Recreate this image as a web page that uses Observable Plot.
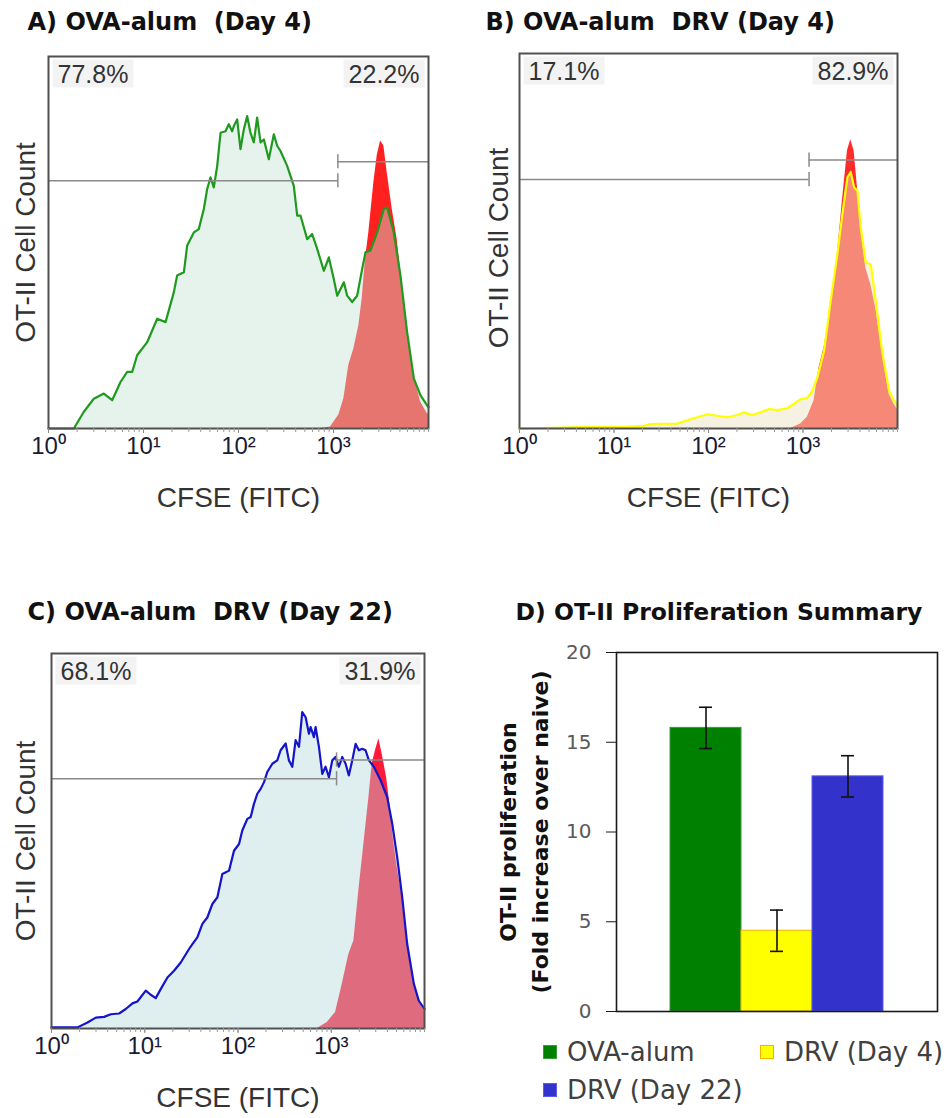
<!DOCTYPE html>
<html><head><meta charset="utf-8">
<script src="https://cdn.jsdelivr.net/npm/d3@7"></script>
<script src="https://cdn.jsdelivr.net/npm/@observablehq/plot@0.6"></script>
<style>
body{margin:0;background:#fff;}
#wrap{position:relative;width:951px;height:1118px;overflow:hidden;background:#fff;}
.panel{position:absolute;}
.legend{position:absolute;left:543px;top:1039px;display:grid;grid-template-columns:217px 200px;row-gap:12px;font-family:"DejaVu Sans",sans-serif;font-size:26px;color:#404040;}
.legend .item{display:flex;align-items:center;line-height:26px;white-space:nowrap;}
.legend .sw{display:inline-block;width:14px;height:14px;margin-right:10px;box-sizing:border-box;border:1px solid;}
</style></head><body><div id="wrap"></div>
<script>
// ---------- DATA ----------
// Histogram panels: [log10(CFSE), % of max cell count]
const panelTitles = ["A) OVA-alum\u00a0 (Day 4)", "B) OVA-alum\u00a0 DRV (Day 4)", "C) OVA-alum\u00a0 DRV (Day 22)"];
const pctLeft = ["77.8%", "17.1%", "68.1%"];
const pctRight = ["22.2%", "82.9%", "31.9%"];
const gateLeftLevel = [66.6, 66.4, 66.6];
const gateRightLevel = [71.7, 71.6, 71.6];
const gateCutLog = [3.046, 3.064, 3.057];
const xAxisLabel = "CFSE (FITC)";
const yAxisLabel = "OT-II Cell Count";
const majorTicks = [1, 10, 100, 1000];
const superscripts = ["\u2070", "\u00b9", "\u00b2", "\u00b3"];

const sampleA = [[0,0],[0.267,0],[0.372,4.5],[0.477,8.0],[0.582,9.4],[0.670,7.6],[0.758,12.5],[0.828,15.2],[0.881,15.2],[0.933,19.7],[1.039,23.2],[1.144,29.5],[1.232,28.6],[1.319,36.6],[1.354,41.1],[1.425,42.0],[1.460,49.2],[1.530,52.7],[1.582,53.6],[1.635,59.0],[1.670,64.3],[1.705,67.5],[1.740,64.8],[1.776,70.6],[1.811,79.5],[1.863,79.9],[1.898,81.8],[1.933,79.9],[1.951,81.3],[1.986,83.1],[2.021,75.1],[2.056,80.4],[2.091,84.0],[2.126,79.5],[2.161,76.9],[2.196,83.6],[2.232,76.9],[2.267,77.7],[2.319,72.4],[2.372,79.1],[2.407,76.0],[2.442,74.6],[2.512,70.6],[2.582,65.2],[2.618,57.2],[2.653,57.2],[2.723,50.9],[2.775,52.3],[2.828,48.3],[2.898,42.4],[2.951,46.0],[3.003,40.2],[3.039,35.7],[3.109,39.3],[3.144,35.7],[3.196,34.0],[3.249,35.7],[3.302,42.9],[3.337,47.4],[3.389,47.8],[3.460,52.7],[3.530,59.0],[3.565,59.4],[3.635,52.7],[3.705,41.1],[3.775,25.9],[3.846,13.4],[3.916,8.9],[3.986,6.2],[4,5.8]];
const redA = [[2.863,0],[2.968,0.4],[3.056,3.6],[3.109,8.0],[3.161,17.0],[3.214,21.4],[3.267,27.7],[3.302,34.9],[3.337,45.6],[3.372,52.7],[3.425,66.1],[3.460,73.3],[3.495,77.3],[3.530,76.0],[3.565,68.8],[3.618,59.0],[3.670,50.9],[3.723,38.4],[3.775,27.7],[3.846,14.3],[3.916,7.2],[3.986,4.0],[4,3.8]];

const sampleB = [[0,0],[0.678,0.4],[1.067,0.4],[1.314,0.7],[1.385,1.2],[1.668,1.3],[1.774,2.2],[1.880,3.0],[1.986,3.8],[2.092,3.4],[2.198,3.0],[2.304,3.6],[2.375,4.3],[2.463,3.6],[2.551,4.3],[2.640,5.2],[2.728,4.9],[2.834,5.4],[2.922,6.9],[2.975,7.8],[3.046,8.2],[3.099,10.0],[3.152,13.6],[3.223,20.7],[3.293,34.1],[3.364,46.5],[3.417,57.2],[3.470,67.0],[3.505,68.4],[3.541,64.3],[3.576,63.4],[3.611,53.6],[3.664,44.2],[3.717,43.8],[3.770,34.0],[3.837,20.6],[3.912,9.9],[3.965,7.3],[4,6.0]];
const redB = [[2.869,0],[2.975,1.2],[3.046,3.0],[3.117,7.4],[3.170,16.3],[3.223,21.6],[3.293,32.3],[3.364,46.5],[3.417,60.7],[3.470,74.0],[3.505,77.0],[3.541,74.0],[3.576,64.3],[3.611,53.6],[3.664,42.9],[3.717,38.4],[3.770,32.1],[3.837,20.6],[3.912,9.1],[3.965,6.4],[4,5.1]];

const sampleC = [[0,0.3],[0.279,0.3],[0.386,1.6],[0.475,2.9],[0.564,3.1],[0.636,3.8],[0.725,4.0],[0.796,5.2],[0.868,6.7],[0.921,7.2],[1.011,10.1],[1.064,9.0],[1.118,8.1],[1.171,10.5],[1.243,13.6],[1.314,15.4],[1.386,17.6],[1.475,21.2],[1.511,22.5],[1.564,24.3],[1.618,27.9],[1.671,29.6],[1.725,33.2],[1.779,35.0],[1.832,41.2],[1.904,42.1],[1.957,47.4],[2.011,49.2],[2.046,52.8],[2.100,55.9],[2.136,56.4],[2.171,59.9],[2.207,62.6],[2.243,63.9],[2.279,65.7],[2.314,68.4],[2.368,70.6],[2.421,71.5],[2.457,74.2],[2.511,76.0],[2.546,71.5],[2.582,69.8],[2.618,76.9],[2.654,75.1],[2.689,84.4],[2.725,83.0],[2.761,78.6],[2.779,80.4],[2.814,77.7],[2.832,80.4],[2.868,75.1],[2.904,67.9],[2.939,69.8],[2.975,67.0],[3.011,71.5],[3.046,72.4],[3.082,69.8],[3.118,72.4],[3.154,70.6],[3.189,67.5],[3.225,71.5],[3.261,75.9],[3.296,74.2],[3.332,74.6],[3.368,74.2],[3.404,71.5],[3.457,69.8],[3.529,66.2],[3.600,61.7],[3.654,54.6],[3.707,45.7],[3.761,35.0],[3.814,22.6],[3.886,11.9],[3.939,7.4],[4,5.2]];
const redC = [[2.850,0],[2.957,1.6],[3.046,4.3],[3.118,11.8],[3.189,19.8],[3.243,23.4],[3.296,36.8],[3.350,49.2],[3.404,61.7],[3.439,70.6],[3.475,74.2],[3.511,77.3],[3.546,73.2],[3.593,67.0],[3.629,59.8],[3.664,51.0],[3.707,43.0],[3.761,35.0],[3.814,22.6],[3.886,11.9],[3.939,7.4],[4,4.7]];

// Bar panel
const titleD = "D) OT-II Proliferation Summary";
const yLabelD = "OT-II proliferation\n(Fold increase over naive)";
const groups = ["OVA-alum", "DRV (Day 4)", "DRV (Day 22)"];
const foldValues = [15.8, 4.5, 13.1];
const foldErrors = [1.15, 1.15, 1.15];
const barFill = ["#008000", "#ffff00", "#3333cc"];
const barStroke = ["#3a9a3a", "#f0b400", "#5a5aee"];
const yTicksD = [0, 5, 10, 15, 20];

// ---------- RENDER ----------
const wrap = document.getElementById("wrap");
const minorTicks = d3.scaleLog().domain([1, 10000]).ticks();
const gateColor = "#8a8a8a";
const gateTick = 1.9;

function histPanel(o) {
  const toRows = a => a.map(([lx, c]) => ({cfse: 10 ** lx, count: c}));
  const S = toRows(o.sample), R = toRows(o.red);
  const cut = 10 ** o.gateLog;
  return Plot.plot({
    width: o.width, height: o.height,
    marginLeft: o.ml, marginRight: o.mr, marginTop: o.mt, marginBottom: o.mb,
    style: {fontFamily: "'Liberation Sans', Arial, sans-serif", background: "transparent", overflow: "visible"},
    x: {type: "log", domain: [1, 10000], label: null},
    y: {domain: [0, 100], axis: null, label: null},
    marks: [
      Plot.areaY(R, {x: "cfse", y: "count", fill: o.redColor}),
      Plot.areaY(S, {x: "cfse", y: "count", fill: o.fill, fillOpacity: o.fillOpacity}),
      Plot.lineY(S, {x: "cfse", y: "count", stroke: o.line, strokeWidth: 2.2}),
      Plot.ruleY([o.gateL], {x1: 1, x2: cut, stroke: gateColor, strokeWidth: 1.5}),
      Plot.ruleY([o.gateR], {x1: cut, x2: 10000, stroke: gateColor, strokeWidth: 1.5}),
      Plot.ruleX([cut], {y1: o.gateL - gateTick, y2: o.gateL + gateTick, stroke: gateColor, strokeWidth: 1.5}),
      Plot.ruleX([cut], {y1: o.gateR - gateTick, y2: o.gateR + gateTick, stroke: gateColor, strokeWidth: 1.5}),
      Plot.frame({stroke: "#505050", strokeWidth: 2}),
      Plot.axisX(minorTicks, {tickSize: 4, tickFormat: () => "", stroke: "#9a9a9a", label: null}),
      Plot.axisX(majorTicks, {tickSize: 5, tickPadding: 3, stroke: "#888", tickFormat: d => "10" + superscripts[Math.round(Math.log10(d))], fontSize: 24, fill: "#1a1a33", label: null}),
      Plot.text([o.pctL], {text: d => d, frameAnchor: "top-left", textAnchor: "start", lineAnchor: "middle", dx: 9, dy: 18, fontSize: 25, fill: "#333"}),
      Plot.text([o.pctR], {text: d => d, frameAnchor: "top-right", textAnchor: "end", lineAnchor: "middle", dx: -9, dy: 18, fontSize: 25, fill: "#333"}),
      Plot.text([o.title], {text: d => d, frameAnchor: "top-left", textAnchor: "start", lineAnchor: "middle", dx: o.tdx, dy: o.tdy, fontSize: 24, fontWeight: "bold", fontFamily: "'DejaVu Sans', sans-serif", fill: "#111"}),
      Plot.text([yAxisLabel], {text: d => d, frameAnchor: "left", textAnchor: "middle", lineAnchor: "middle", rotate: -90, dx: o.ydx, dy: o.ydy, fontSize: 28, fill: "#333"}),
      Plot.text([xAxisLabel], {text: d => d, frameAnchor: "bottom", textAnchor: "middle", lineAnchor: "middle", dy: 70, fontSize: 28, fill: "#333"})
    ]
  });
}

function place(node, left, top) {
  const d = document.createElement("div");
  d.className = "panel";
  d.style.left = left + "px";
  d.style.top = top + "px";
  d.appendChild(node);
  wrap.appendChild(d);
  return node;
}

function addPctBoxes(svg) {
  svg.querySelectorAll("text").forEach(t => {
    if (/%$/.test(t.textContent)) {
      const b = t.getBBox();
      const r = document.createElementNS("http://www.w3.org/2000/svg", "rect");
      r.setAttribute("x", b.x - 5);
      r.setAttribute("y", b.y);
      r.setAttribute("width", b.width + 10);
      r.setAttribute("height", b.height);
      r.setAttribute("fill", "#f3f3f3");
      const tr = t.getAttribute("transform");
      if (tr) r.setAttribute("transform", tr);
      t.parentNode.insertBefore(r, t);
    }
  });
}

const panels = [
  {sample: sampleA, red: redA, redColor: "#ff2020", fill: "#c6e1d3", fillOpacity: 0.44, line: "#1f9a1f",
   width: 470, height: 540, ml: 48, mr: 42, mt: 56, mb: 112, tdx: -21, tdy: -34, ydx: -22, ydy: 0, left: 0, top: 0},
  {sample: sampleB, red: redB, redColor: "#ff2a2a", fill: "#ece6c4", fillOpacity: 0.5, line: "#ffff00",
   width: 481, height: 540, ml: 49, mr: 54, mt: 53, mb: 112, tdx: -34, tdy: -31, ydx: -20, ydy: 7, left: 470, top: 0},
  {sample: sampleC, red: redC, redColor: "#ff1a3a", fill: "#b5d8d8", fillOpacity: 0.43, line: "#1414c8",
   width: 470, height: 558, ml: 51, mr: 46, mt: 93, mb: 90, tdx: -24, tdy: -41, ydx: -25, ydy: 0, left: 0, top: 560}
];
panels.forEach((p, i) => {
  const svg = histPanel({...p, title: panelTitles[i], pctL: pctLeft[i], pctR: pctRight[i],
    gateL: gateLeftLevel[i], gateR: gateRightLevel[i], gateLog: gateCutLog[i]});
  place(svg, p.left, p.top);
  addPctBoxes(svg);
});

// Panel D
const rows = groups.map((g, i) => ({group: g, value: foldValues[i], err: foldErrors[i], fill: barFill[i], stroke: barStroke[i]}));
const plotD = Plot.plot({
  width: 481, height: 558, marginLeft: 146, marginRight: 14, marginTop: 92, marginBottom: 107,
  style: {fontFamily: "'DejaVu Sans', sans-serif", background: "transparent", overflow: "visible"},
  x: {domain: groups, paddingInner: 0, paddingOuter: 0.75, axis: null, label: null},
  y: {domain: [0, 20], label: null},
  color: {type: "identity"},
  marks: [
    Plot.barY(rows, {x: "group", y: "value", fill: "fill", stroke: "stroke", strokeWidth: 1}),
    Plot.ruleX(rows, {x: "group", y1: d => d.value - d.err, y2: d => d.value + d.err, stroke: "#111", strokeWidth: 1.6}),
    Plot.tickY(rows, {x: "group", y: d => d.value - d.err, insetLeft: 29, insetRight: 29, stroke: "#111", strokeWidth: 1.6}),
    Plot.tickY(rows, {x: "group", y: d => d.value + d.err, insetLeft: 29, insetRight: 29, stroke: "#111", strokeWidth: 1.6}),
    Plot.frame({stroke: "#1a1a1a", strokeWidth: 1.6}),
    Plot.axisY(yTicksD, {tickSize: 10, tickPadding: 15, fontSize: 20, fill: "#595959", stroke: "#1a1a1a", label: null}),
    Plot.text([titleD], {text: d => d, frameAnchor: "top-left", textAnchor: "start", lineAnchor: "middle", dx: -101, dy: -40, fontSize: 23.5, fontWeight: "bold", fill: "#111"}),
    Plot.text([yLabelD], {text: d => d, frameAnchor: "left", textAnchor: "middle", lineAnchor: "middle", rotate: -90, dx: -95, fontSize: 22, fontWeight: "bold", lineHeight: 1.45, fill: "#111"})
  ]
});
place(plotD, 470, 560);

// Legend for panel D
const legend = document.createElement("div");
legend.className = "legend";
groups.forEach((g, i) => {
  const item = document.createElement("div");
  item.className = "item";
  const sw = document.createElement("span");
  sw.className = "sw";
  sw.style.background = barFill[i];
  sw.style.borderColor = barStroke[i];
  item.appendChild(sw);
  item.appendChild(document.createTextNode(g));
  legend.appendChild(item);
});
wrap.appendChild(legend);
</script>
</body></html>
